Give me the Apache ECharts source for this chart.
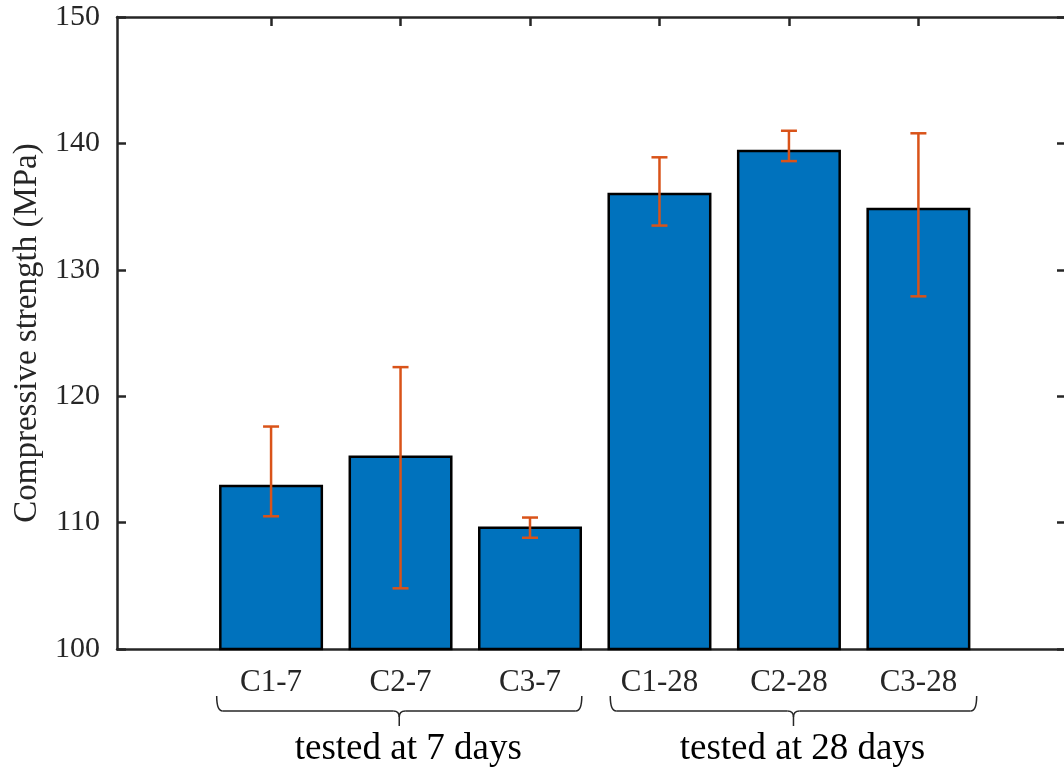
<!DOCTYPE html>
<html>
<head>
<meta charset="utf-8">
<script src="https://cdn.jsdelivr.net/npm/echarts@6/dist/echarts.min.js"></script>
<style>
  html, body { margin: 0; padding: 0; background: #fff; }
  #chart { width: 1064px; height: 768px; }
</style>
</head>
<body>
<div id="chart"></div>
<script>
// bar labels, positions and values
const categories = ["C1-7", "C2-7", "C3-7", "C1-28", "C2-28", "C3-28"];
const positions = [1, 2, 3, 4, 5, 6];
const strength = [113.0, 115.3, 109.7, 136.1, 139.5, 134.9];
const errLow = [110.5, 104.8, 108.8, 133.5, 138.6, 127.9];
const errHigh = [117.6, 122.3, 110.4, 138.9, 141.0, 140.8];
const groups = [
  { name: "tested at 7 days", from: 0.58, to: 3.4 },
  { name: "tested at 28 days", from: 3.62, to: 6.45 },
];

const FONT = "'Liberation Serif', 'Times New Roman', serif";
const AXIS_COLOR = "#262626";

const chart = echarts.init(document.getElementById("chart"));

const axisLine = { show: true, onZero: false, lineStyle: { color: AXIS_COLOR, width: 2.5 } };
const tick = { inside: true, length: 9, lineStyle: { color: AXIS_COLOR, width: 2.5 } };

chart.setOption({
  animation: false,
  grid: { left: 117, top: 17, right: -2, bottom: 119, outerBoundsMode: "none", containLabel: false },
  xAxis: [
    {
      type: "value",
      min: -0.19,
      max: 7.14,
      axisLine: axisLine,
      splitLine: { show: false },
      axisTick: Object.assign({ customValues: positions }, tick),
      axisLabel: {
        customValues: positions,
        margin: 18,
        fontFamily: FONT,
        fontSize: 31,
        color: "#262626",
        formatter: (v) => categories[positions.indexOf(v)] || "",
      },
    },
    {
      type: "value",
      position: "top",
      min: -0.19,
      max: 7.14,
      axisLine: axisLine,
      splitLine: { show: false },
      axisTick: Object.assign({ customValues: positions }, tick),
      axisLabel: { show: false },
    },
  ],
  yAxis: [
    {
      type: "value",
      min: 100,
      max: 150,
      interval: 10,
      name: "Compressive strength (MPa)",
      nameLocation: "middle",
      nameGap: 72,
      nameTextStyle: { fontFamily: FONT, fontSize: 33, color: "#262626" },
      axisLine: axisLine,
      splitLine: { show: false },
      axisTick: tick,
      axisLabel: { margin: 17, fontFamily: FONT, fontSize: 30, color: "#262626" },
    },
    {
      type: "value",
      position: "right",
      min: 100,
      max: 150,
      interval: 10,
      axisLine: axisLine,
      splitLine: { show: false },
      axisTick: tick,
      axisLabel: { show: false },
    },
  ],
  series: [
    {
      type: "bar",
      barWidth: 104,
      data: positions.map((x, i) => [x, strength[i]]),
      itemStyle: { color: "#0072BD", borderColor: "#000", borderWidth: 2.5 },
    },
    {
      type: "custom",
      z: 5,
      data: positions.map((x, i) => [x, errLow[i], errHigh[i]]),
      renderItem: function (params, api) {
        const x = api.value(0);
        const lo = api.coord([x, api.value(1)]);
        const hi = api.coord([x, api.value(2)]);
        const cap = 8;
        const style = { stroke: "#D95319", lineWidth: 2.5 };
        return {
          type: "group",
          children: [
            { type: "line", shape: { x1: lo[0], y1: lo[1], x2: hi[0], y2: hi[1] }, style: style },
            { type: "line", shape: { x1: hi[0] - cap, y1: hi[1], x2: hi[0] + cap, y2: hi[1] }, style: style },
            { type: "line", shape: { x1: lo[0] - cap, y1: lo[1], x2: lo[0] + cap, y2: lo[1] }, style: style },
          ],
        };
      },
    },
  ],
});

// curly braces and group names under the tick labels
const braceTop = 696, braceLine = 711, braceTip = 726;
const braceStyle = { fill: null, stroke: "#262626", lineWidth: 1.5 };
const graphics = [];
function curve(x1, y1, cx, cy, x2, y2) {
  return { type: "bezierCurve", shape: { x1, y1, cpx1: cx, cpy1: cy, x2, y2 }, style: braceStyle };
}
function seg(x1, y1, x2, y2) {
  return { type: "line", shape: { x1, y1, x2, y2 }, style: braceStyle };
}
groups.forEach((g) => {
  const xl = chart.convertToPixel({ xAxisIndex: 0 }, g.from);
  const xr = chart.convertToPixel({ xAxisIndex: 0 }, g.to);
  const xm = (xl + xr) / 2;
  graphics.push(curve(xl, braceTop, xl, braceLine, xl + 6, braceLine));
  graphics.push(seg(xl + 6, braceLine, xm - 6, braceLine));
  graphics.push(curve(xm - 6, braceLine, xm, braceLine, xm, braceLine + 6));
  graphics.push(curve(xm + 6, braceLine, xm, braceLine, xm, braceLine + 6));
  graphics.push(seg(xm, braceLine + 6, xm, braceTip));
  graphics.push(seg(xm + 6, braceLine, xr - 6, braceLine));
  graphics.push(curve(xr - 6, braceLine, xr, braceLine, xr, braceTop));
  graphics.push({
    type: "text",
    x: xm + 9,
    y: 749,
    style: {
      text: g.name,
      font: `37px ${FONT}`,
      fill: "#000",
      align: "center",
      verticalAlign: "middle",
    },
  });
});
chart.setOption({ graphic: graphics });
</script>
</body>
</html>
